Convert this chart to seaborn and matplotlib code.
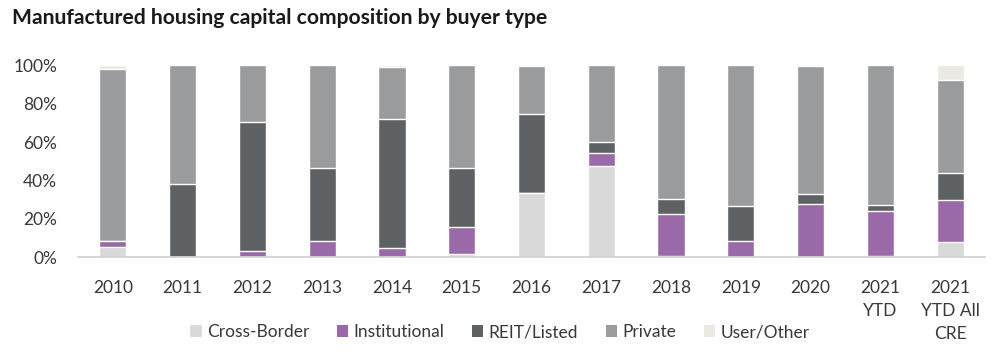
import matplotlib
matplotlib.use("Agg")
import matplotlib.pyplot as plt
import seaborn as sns
import numpy as np
from matplotlib.patches import Patch

categories = ["2010", "2011", "2012", "2013", "2014", "2015", "2016", "2017",
              "2018", "2019", "2020", "2021\nYTD", "2021\nYTD All\nCRE"]
cross_border = [5.5, 0, 0, 0, 0, 1.7, 33.6, 47.6, 0.8, 0, 0, 0.8, 7.8]
institutional = [3.0, 0, 3.3, 8.6, 4.7, 14.2, 0, 6.8, 21.9, 8.6, 27.9, 23.1, 22.0]
reit_listed = [0, 38.0, 67.1, 37.7, 67.2, 30.7, 41.1, 5.4, 7.6, 18.1, 5.0, 3.1, 14.0]
private = [89.5, 62.0, 29.6, 53.7, 27.1, 53.4, 24.8, 40.2, 69.7, 73.3, 66.7, 73.0, 48.4]
user_other = [2.0, 0, 0, 0, 1.2, 0, 0.5, 0, 0, 0, 0.4, 0, 7.8]

series_names = ["Cross-Border", "Institutional", "REIT/Listed", "Private", "User/Other"]
series = [cross_border, institutional, reit_listed, private, user_other]
colors = ["#d9d9d9", "#9a6aa8", "#5f6265", "#9a9b9d", "#ebe9e1"]

sns.set_theme(style="white")
plt.rcParams["font.family"] = ["Lato", "DejaVu Sans"]

fig = plt.figure(figsize=(10, 3.54), dpi=100)
ax = fig.add_axes([0.078, 0.273, 0.907, 0.543])

cum = np.cumsum(np.array(series, dtype=float), axis=0) / 100.0
for i in range(len(series) - 1, -1, -1):
    sns.barplot(x=categories, y=cum[i], color=colors[i], saturation=1,
                width=0.39, ax=ax, order=categories)

ax.set_ylim(0, 1.0)
ax.set_xlim(-0.5, 12.5)
ax.set_yticks(np.arange(0, 1.01, 0.2))
ax.set_yticklabels([f"{int(v*100)}%" for v in np.arange(0, 1.01, 0.2)])
for s in ["top", "right", "left"]:
    ax.spines[s].set_visible(False)
ax.spines["bottom"].set_color("#d0d0d0")
ax.spines["bottom"].set_linewidth(1.2)
ax.tick_params(axis="both", length=0, labelsize=12.5, labelcolor="#383838")
ax.tick_params(axis="y", pad=15)
ax.tick_params(axis="x", pad=16)
ax.set_xlabel("")
ax.set_ylabel("")
for lbl in ax.get_xticklabels():
    lbl.set_linespacing(1.55)

handles = [Patch(facecolor=c, edgecolor="none") for c in colors]
fig.legend(handles, series_names, loc="lower center", bbox_to_anchor=(0.5, -0.005),
           ncol=5, frameon=False, fontsize=12.5, handlelength=0.65, handleheight=0.65,
           handletextpad=0.3, columnspacing=1.6, labelcolor="#383838")

fig.text(0.012, 0.948, "Manufactured housing capital composition by buyer type",
         fontsize=15.2, fontweight="bold", color="#1a1a1a", ha="left", va="center")

fig.savefig("out.png", dpi=100)
